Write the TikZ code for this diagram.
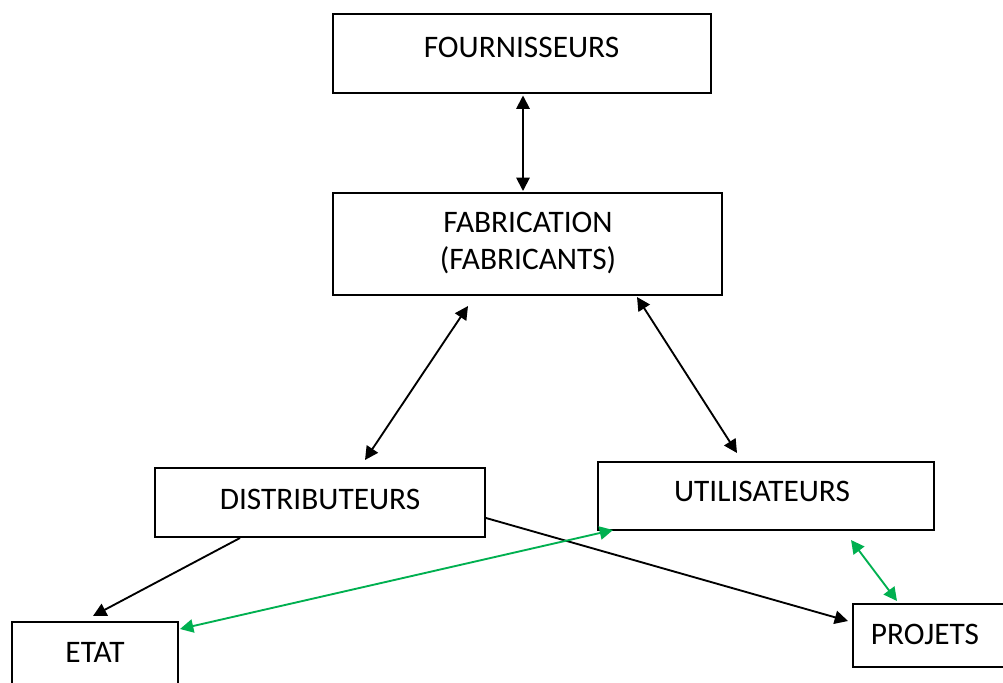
\documentclass[tikz,border=0pt]{standalone}
\usepackage{fontspec}
\setmainfont{Carlito}
\usetikzlibrary{arrows.meta}
\definecolor{linkgreen}{HTML}{00B050}
\tikzset{
  box/.style={draw=black, line width=1.5pt, fill=white, inner sep=0pt},
  lbl/.style={inner sep=0pt, font=\fontsize{23.5}{28}\selectfont},
  tip/.style={Triangle[length=10pt, width=10pt]},
  biarrow/.style={line width=1.4pt, {Triangle[length=10pt, width=10pt]}-{Triangle[length=10pt, width=10pt]}},
  onearrow/.style={line width=1.4pt, -{Triangle[length=10pt, width=10pt]}},
  greenlink/.style={draw=linkgreen, fill=linkgreen}
}
\begin{document}
\begin{tikzpicture}[x=0.75pt, y=-0.75pt]
  \clip (0,0) rectangle (1003,682);
  \fill[white] (0,0) rectangle (1003,682);

  % boxes
  \node[box, minimum width=378*0.75pt, minimum height=79*0.75pt] (four) at (522,53.5) {};
  \node[box, minimum width=389*0.75pt, minimum height=102*0.75pt] (fab) at (527.5,244) {};
  \node[box, minimum width=330*0.75pt, minimum height=69*0.75pt] (dist) at (320,502.5) {};
  \node[box, minimum width=336*0.75pt, minimum height=68*0.75pt] (util) at (766,496) {};
  \node[box, minimum width=166*0.75pt, minimum height=78*0.75pt] (etat) at (95,661) {};
  \node[box, minimum width=157*0.75pt, minimum height=63*0.75pt] (proj) at (931.5,635.5) {};

  % labels
  \node[lbl] (fourtxt) at (521.5,47) {FOURNISSEURS};
  \node[lbl] (fabtxt1) at (528,222) {FABRICATION};
  \node[lbl] (fabtxt2) at (528,260) {(FABRICANTS)};
  \node[lbl] (disttxt) at (320,499) {DISTRIBUTEURS};
  \node[lbl] (utiltxt) at (762,491) {UTILISATEURS};
  \node[lbl] (etattxt) at (95,652) {ETAT};
  \node[lbl] (projtxt) at (925,634) {PROJETS};

  % black connectors
  \draw[biarrow] ([shift={(1,1.5)}]four.south) -- ([shift={(-4.5,-1)}]fab.north);
  \draw[biarrow] ([shift={(-59.5,10)}]fab.south) -- ([shift={(45,-7)}]dist.north);
  \draw[biarrow] ([shift={(109.5,1)}]fab.south) -- ([shift={(-29,-8)}]util.north);
  \draw[onearrow] ([shift={(-80,0)}]dist.south) -- ([shift={(-2,-5)}]etat.north);
  \draw[onearrow] ([shift={(0,15.5)}]dist.east) -- ([shift={(-4,-14.5)}]proj.west);

  % green connectors
  \draw[biarrow, linkgreen] ([shift={(1,8)}]etat.north east) -- ([shift={(16,-1)}]util.south west);
  \draw[biarrow, linkgreen] ([shift={(85,9)}]util.south) -- ([shift={(-34.5,-2)}]proj.north);
\end{tikzpicture}
\end{document}
